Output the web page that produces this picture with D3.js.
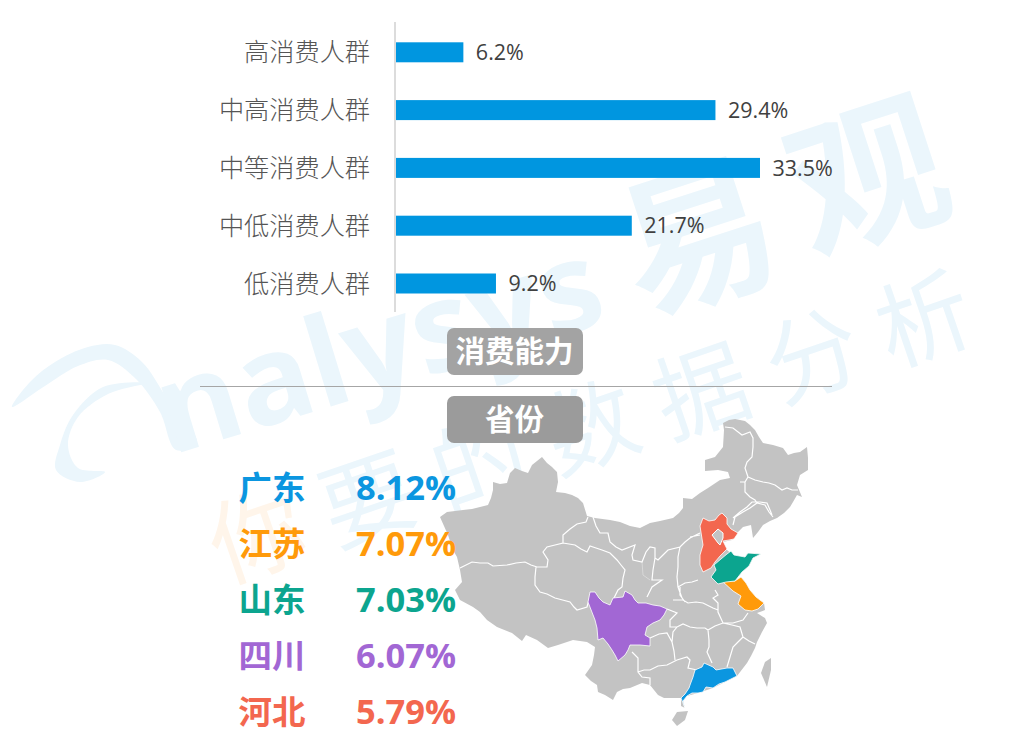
<!DOCTYPE html>
<html>
<head>
<meta charset="utf-8">
<script src="https://cdn.jsdelivr.net/npm/d3@7"></script>
<style>
body { margin: 0; background: #fff; }
svg { display: block; }
text { font-family: "Noto Sans CJK SC", "Open Sans", sans-serif; }
</style>
</head>
<body>
<div id="chart"></div>
<script>
// consumption bars
const levels = ['高消费人群', '中高消费人群', '中等消费人群', '中低消费人群', '低消费人群'];
const levelShare = [6.2, 29.4, 33.5, 21.7, 9.2];

// top provinces
const provinces = ['广东', '江苏', '山东', '四川', '河北'];
const provinceShare = ['8.12%', '7.07%', '7.03%', '6.07%', '5.79%'];
const provinceColors = ['#0b96e0', '#ff9a0a', '#0ca58f', '#a267d4', '#f3674f'];

// map shapes
const chinaOutline = [[440,517],[447,512],[455,511],[463,510],[472,509],[480,507],[488,505],[491,498],[493,490],[493,482],[500,484],[507,483],[510,473],[515,468],[522,471],[528,473],[532,465],[537,461],[542,457],[547,463],[552,467],[557,472],[558,482],[556,492],[565,493],[572,495],[578,498],[583,503],[587,516],[595,518],[610,520],[620,522],[630,526],[640,528],[650,523],[660,521],[673,518],[679,513],[683,508],[683,498],[692,499],[700,493],[708,488],[720,480],[730,478],[728,472],[718,470],[705,471],[705,460],[715,457],[719,452],[723,447],[724,430],[723,423],[729,420],[735,419],[745,421],[750,425],[755,430],[759,437],[763,443],[773,445],[783,448],[788,455],[794,453],[800,452],[807,447],[808,458],[808,470],[800,475],[797,485],[802,497],[797,495],[793,502],[790,507],[784,513],[777,518],[770,521],[763,525],[758,532],[753,538],[751,525],[743,527],[737,533],[738,533],[732,540],[723,542],[727,550],[733,555],[745,557],[748,553],[761,554],[753,558],[749,566],[742,572],[735,581],[741,577],[746,583],[750,590],[756,597],[764,603],[765,610],[757,613],[765,618],[767,623],[762,632],[757,642],[755,648],[751,656],[747,663],[737,676],[725,682],[713,688],[698,693],[687,696],[683,701],[685,708],[681,706],[681,698],[670,698],[664,698],[658,695],[650,685],[642,683],[630,688],[623,689],[617,692],[613,700],[605,695],[598,692],[597,685],[591,681],[585,675],[592,665],[594,655],[595,647],[587,642],[573,640],[558,645],[548,648],[537,640],[526,635],[522,641],[512,633],[497,627],[487,620],[480,612],[473,607],[460,600],[455,590],[462,582],[460,570],[457,557],[453,550],[448,535],[438,527]];
const hainan = [[672,720],[677,712],[688,711],[685,720],[677,726],[671,723]];
const taiwan = [[761,673],[765,662],[771,658],[771,670],[767,687],[762,680]];
const borders = [
  [[460,568],[472,562],[480,563],[488,563],[493,566],[507,565],[516,563],[525,562],[531,565],[537,567],[547,567],[548,560],[543,552],[547,547],[555,545],[563,543],[563,535],[570,529],[577,524],[586,522],[588,517]],
  [[536,567],[535,577],[535,585],[540,592],[547,594],[555,598],[570,602],[574,607],[577,610],[587,607],[590,596]],
  [[563,543],[575,545],[581,549],[587,552],[590,546],[596,548],[602,550],[610,553],[617,560],[621,565],[625,570],[623,578],[622,587],[618,590],[613,600]],
  [[593,517],[596,526],[600,533],[608,533],[610,542],[616,547],[622,550],[635,545],[632,555],[633,560],[642,562],[646,552],[650,547],[655,548],[655,558],[658,560],[663,555],[668,550],[680,547],[685,542],[690,538],[700,533]],
  [[680,547],[678,557],[678,567],[677,577],[678,587],[682,598]],
  [[655,558],[653,570],[652,580],[662,580],[652,587],[647,597]],
  [[678,587],[685,583],[692,582],[698,580]],
  [[673,600],[683,600],[688,603],[696,602],[703,603],[713,608],[718,610]],
  [[715,590],[718,595],[713,598],[718,603],[718,612],[723,623],[733,623],[743,620],[748,613]],
  [[680,587],[680,595],[685,602]],
  [[667,609],[677,613],[670,620],[670,627],[677,627],[683,624],[690,627],[697,628],[705,628],[708,630],[715,626],[723,623],[732,625],[740,627],[743,637],[738,642],[733,647],[730,657],[727,667]],
  [[677,627],[673,632],[672,642],[674,651],[675,660]],
  [[708,630],[709,640],[709,647],[707,652],[712,663]],
  [[743,637],[749,641],[755,644]],
  [[638,672],[644,670],[650,670],[658,666],[667,665],[677,660],[687,657],[690,660],[688,668],[697,670]],
  [[632,652],[638,658],[638,672],[642,677],[650,678],[650,685]],
  [[650,638],[659,634],[667,633],[672,642]],
  [[733,518],[740,512],[747,507],[752,502],[760,502],[767,503],[770,510],[772,515]],
  [[733,525],[735,517],[743,512],[750,508],[757,503],[765,505],[769,512],[773,517]],
  [[740,482],[745,482],[745,492],[750,497],[755,500],[757,503]],
  [[745,482],[748,477],[755,480],[763,482],[769,483],[775,485],[782,490],[787,488],[792,490],[798,490]],
  [[748,477],[745,468],[747,462],[752,457],[753,447],[753,438],[750,432],[742,435],[733,428],[725,427]],
  [[690,537],[700,535]]
];
const faintBorders = [[[642,562],[643,575],[650,580]]];
const sichuan = [[588,602],[590,592],[595,592],[599,598],[603,602],[610,605],[613,598],[623,597],[625,591],[632,595],[635,600],[638,603],[646,603],[653,605],[660,606],[667,609],[664,615],[660,620],[653,623],[647,627],[645,635],[650,638],[650,646],[640,645],[630,645],[628,650],[625,655],[618,661],[615,655],[612,650],[608,644],[603,638],[598,640],[597,628],[595,620],[593,613]];
const guangdong = [[681,698],[685,694],[689,688],[690,685],[693,677],[695,670],[702,667],[704,663],[713,667],[716,670],[727,668],[733,668],[737,676],[725,682],[719,684],[713,688],[706,687],[703,692],[698,693],[692,693],[687,696],[683,701],[685,708],[681,706]];
const hebei = [[700,526],[703,518],[709,521],[715,520],[719,515],[722,513],[727,518],[727,524],[731,529],[738,533],[734,539],[729,540],[723,541],[727,549],[720,556],[715,562],[711,568],[703,572],[700,565],[700,555],[703,545],[699,535]];
const beijing = [[712,535],[718,529],[723,533],[723,538],[720,545],[718,543],[712,540]];
const shandong = [[711,577],[716,570],[714,565],[721,559],[727,554],[731,551],[734,555],[745,557],[748,553],[761,554],[753,558],[749,566],[742,572],[735,581],[726,582],[718,584],[716,580]];
const jiangsu = [[722,581],[735,581],[741,577],[746,583],[750,590],[756,597],[764,603],[758,609],[752,611],[745,610],[738,604],[741,596],[733,591],[727,588]];
const highlighted = [guangdong, jiangsu, shandong, sichuan, hebei];

// watermark
const watermarkSlogan = ['你', '要', '的', '数', '据', '分', '析'];
const logoOuter = [[12,407],[30,382],[55,362],[88,347],[115,345],[142,362],[168,400],[197,443],[176,450],[160,412],[136,379],[108,360],[78,366],[45,386]];
const logoInner = [[147,383],[103,387],[73,415],[60,445],[56,470],[80,482],[105,472],[78,468],[68,445],[78,417],[108,394]];

const width = 1009, height = 751;
const svg = d3.select('#chart').append('svg').attr('width', width).attr('height', height);

// watermark first, everything sits over it
const wm = svg.append('g').attr('fill', '#ebf6fc');
const blob = d3.line().curve(d3.curveCatmullRomClosed);
wm.append('path').attr('d', blob(logoOuter));
wm.append('path').attr('d', blob(logoInner));
wm.append('text')
  .attr('transform', 'translate(172,455) rotate(-17)')
  .style('font-family', '"Open Sans", sans-serif')
  .style('font-size', '124px')
  .style('font-weight', 700)
  .text('nalysys');
wm.selectAll('.big')
  .data(['易', '观'])
  .enter().append('text')
  .attr('text-anchor', 'middle')
  .attr('transform', (d, i) => 'translate(' + (i ? 885 : 715) + ',' + (i ? 230 : 291) + ') rotate(-18)')
  .style('font-size', '155px')
  .style('font-weight', 700)
  .text(d => d);
const sloganX = d3.scalePoint().domain(watermarkSlogan).range([268, 935]);
const sloganY = d3.scalePoint().domain(watermarkSlogan).range([568, 352]);
wm.selectAll('.slogan')
  .data(watermarkSlogan)
  .enter().append('text')
  .attr('text-anchor', 'middle')
  .attr('fill', d => d === '你' ? '#fff5ea' : '#ebf6fc')
  .attr('transform', d => 'translate(' + sloganX(d) + ',' + sloganY(d) + ') rotate(-19)')
  .style('font-size', '94px')
  .style('font-weight', 400)
  .text(d => d);

// bars
const x = d3.scaleLinear().domain([0, 33.5]).range([396, 760]);
const y = d3.scaleBand().domain(levels).range([23.4, 312.4]).paddingInner(0.654).paddingOuter(0.327);

svg.append('line')
  .attr('x1', 395).attr('x2', 395).attr('y1', 22).attr('y2', 312)
  .attr('stroke', '#dcdcdc').attr('stroke-width', 2);

const rows = svg.selectAll('.row')
  .data(levels)
  .enter().append('g')
  .attr('class', 'row');

rows.append('rect')
  .attr('x', x(0))
  .attr('y', d => y(d))
  .attr('height', y.bandwidth())
  .attr('width', (d, i) => x(levelShare[i]) - x(0))
  .attr('fill', '#0096e0');

rows.append('text')
  .attr('x', 370)
  .attr('y', d => y(d) + y.bandwidth() / 2)
  .attr('dy', '0.36em')
  .attr('text-anchor', 'end')
  .attr('fill', '#555')
  .style('font-size', '25.2px')
  .style('font-weight', 300)
  .text(d => d);

rows.append('text')
  .attr('x', (d, i) => x(levelShare[i]) + 12.5)
  .attr('y', d => y(d) + y.bandwidth() / 2)
  .attr('dy', '0.36em')
  .attr('fill', '#404040')
  .style('font-family', '"Open Sans", sans-serif')
  .style('font-size', '21.5px')
  .text((d, i) => levelShare[i].toFixed(1) + '%');

// section badges
const badges = [{ label: '消费能力', top: 328 }, { label: '省份', top: 396 }];
const badge = svg.selectAll('.badge')
  .data(badges)
  .enter().append('g')
  .attr('class', 'badge');
badge.append('rect')
  .attr('x', 447).attr('y', d => d.top)
  .attr('width', 136).attr('height', 47).attr('rx', 7)
  .attr('fill', (d, i) => i ? '#9b9b9b' : '#a3a3a3');
badge.append('text')
  .attr('x', 514.5).attr('y', d => d.top + 23.5)
  .attr('dy', '0.36em')
  .attr('text-anchor', 'middle')
  .attr('fill', '#fff')
  .style('font-size', '29.5px')
  .style('font-weight', 700)
  .text(d => d.label);

svg.append('line')
  .attr('x1', 200).attr('x2', 832).attr('y1', 386.5).attr('y2', 386.5)
  .attr('stroke', '#a6a6a6');

// map
const mapPath = d3.geoPath(d3.geoIdentity());
const polygon = ring => ({ type: 'Polygon', coordinates: [ring] });
const map = svg.append('g');
map.selectAll('.land')
  .data([chinaOutline, hainan, taiwan])
  .enter().append('path')
  .attr('d', d => mapPath(polygon(d)))
  .attr('fill', '#c3c3c3');
map.append('path')
  .attr('d', mapPath({ type: 'MultiLineString', coordinates: faintBorders }))
  .attr('fill', 'none').attr('stroke', '#d8d8d8').attr('stroke-width', 1);
map.append('path')
  .attr('d', mapPath({ type: 'MultiLineString', coordinates: borders }))
  .attr('fill', 'none').attr('stroke', '#fff').attr('stroke-width', 1.2);
map.selectAll('.hit')
  .data(highlighted)
  .enter().append('path')
  .attr('d', d => mapPath(polygon(d)))
  .attr('fill', (d, i) => provinceColors[i])
  .attr('stroke', '#fff').attr('stroke-width', 0.8);
map.append('path')
  .attr('d', mapPath(polygon(beijing)))
  .attr('fill', '#c3c3c3').attr('stroke', '#fff').attr('stroke-width', 1);

// province list
const rowY = d3.scalePoint().domain(provinces).range([488, 712]);
const list = svg.selectAll('.province')
  .data(provinces)
  .enter().append('g')
  .attr('class', 'province')
  .attr('fill', (d, i) => provinceColors[i])
  .style('font-weight', 700);
list.append('text')
  .attr('x', 238.5).attr('y', d => rowY(d)).attr('dy', '0.36em')
  .style('font-size', '33.5px')
  .text(d => d);
list.append('text')
  .attr('x', 356).attr('y', d => rowY(d)).attr('dy', '0.36em')
  .style('font-family', '"Open Sans", sans-serif')
  .style('font-size', '34.5px')
  .text((d, i) => provinceShare[i]);
</script>
</body>
</html>
